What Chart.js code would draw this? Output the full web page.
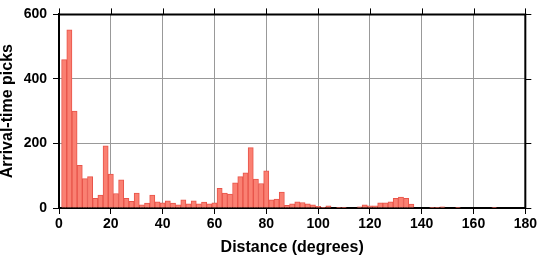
<!DOCTYPE html>
<html>
<head>
<meta charset="utf-8">
<script src="https://cdn.jsdelivr.net/npm/chart.js@4/dist/chart.umd.min.js"></script>
<style>
  html, body { margin: 0; padding: 0; background: #fff; }
  #wrap { width: 539px; height: 258px; }
</style>
</head>
<body>
<div id="wrap"><canvas id="hist" width="539" height="258"></canvas></div>
<script>
// Centros de los intervalos (grados), ancho de 2 grados
const distancias = [
  2, 4, 6, 8, 10, 12, 14, 16, 18, 20,
  22, 24, 26, 28, 30, 32, 34, 36, 38, 40,
  42, 44, 46, 48, 50, 52, 54, 56, 58, 60,
  62, 64, 66, 68, 70, 72, 74, 76, 78, 80,
  82, 84, 86, 88, 90, 92, 94, 96, 98, 100,
  102, 104, 106, 108, 110, 112, 114, 116, 118, 120,
  122, 124, 126, 128, 130, 132, 134, 136, 138, 140,
  142, 144, 146, 148, 150, 152, 154, 156, 158, 160,
  162, 164, 166, 168, 170, 172, 174, 176, 178
];

// Numero de lecturas por intervalo
const lecturas = [
  460, 552, 300, 132, 91, 97, 30, 40, 193, 105,
  45, 87, 30, 21, 46, 10, 15, 40, 19, 16,
  22, 15, 10, 25, 13, 22, 13, 18, 13, 16,
  61, 46, 43, 78, 97, 109, 187, 90, 76, 115,
  25, 28, 49, 8, 13, 19, 17, 13, 10, 5,
  2, 7, 0, 1, 1, 0, 0, 4, 10, 7,
  7, 16, 16, 19, 30, 34, 30, 12, 0, 0,
  0, 1, 1, 4, 0, 0, 1, 0, 0, 0,
  0, 0, 0, 1, 0, 0, 0, 0, 0
];

const ticksX = [0, 20, 40, 60, 80, 100, 120, 140, 160, 180];
const ticksY = [0, 200, 400, 600];

const fuenteTicks = { family: "'Liberation Sans', Arial, sans-serif", size: 14, weight: 'bold' };
const fuenteTitulo = { family: "'Liberation Sans', Arial, sans-serif", size: 16, weight: 'bold', lineHeight: 1 };

// Marco superior y derecho con sus marcas hacia afuera
const marco = {
  id: 'marco',
  afterDraw(chart) {
    const { ctx, chartArea: a, scales } = chart;
    ctx.save();
    ctx.strokeStyle = '#000';
    ctx.lineWidth = 2;
    ctx.beginPath();
    ctx.moveTo(a.left - 1, a.top);
    ctx.lineTo(a.right, a.top);
    ctx.lineTo(a.right, a.bottom + 1);
    ctx.stroke();
    ctx.lineWidth = 1;
    ctx.beginPath();
    ticksX.forEach(v => {
      const x = Math.round(scales.x.getPixelForValue(v)) + 0.5;
      ctx.moveTo(x, a.top);
      ctx.lineTo(x, a.top - 6);
    });
    ticksY.forEach(v => {
      const y = Math.round(scales.y.getPixelForValue(v)) + 0.5;
      ctx.moveTo(a.right, y);
      ctx.lineTo(a.right + 6, y);
    });
    ctx.stroke();
    ctx.restore();
  }
};

new Chart(document.getElementById('hist').getContext('2d'), {
  type: 'bar',
  data: {
    datasets: [{
      data: distancias.map((d, i) => ({ x: d, y: lecturas[i] })),
      backgroundColor: 'rgb(250, 128, 114)',
      borderColor: 'rgb(232, 84, 74)',
      borderWidth: 1,
      barPercentage: 1,
      categoryPercentage: 1
    }]
  },
  options: {
    responsive: false,
    animation: false,
    devicePixelRatio: 1,
    layout: { padding: { top: 6, right: 13, left: 0, bottom: 0 } },
    plugins: { legend: { display: false }, tooltip: { enabled: false } },
    scales: {
      x: {
        type: 'linear',
        min: 0,
        max: 180,
        offset: false,
        afterBuildTicks: s => { s.ticks = ticksX.map(v => ({ value: v })); },
        afterFit: s => { s.height = 50; },
        ticks: { color: '#000', font: fuenteTicks, padding: 2, maxRotation: 0 },
        grid: { offset: false, color: '#999', lineWidth: 1, tickColor: '#000', tickLength: 6 },
        border: { display: true, color: '#000', width: 2 },
        title: { display: true, text: 'Distance (degrees)', color: '#000', font: fuenteTitulo, padding: { top: 0, bottom: 2 } }
      },
      y: {
        min: 0,
        max: 600,
        afterBuildTicks: s => { s.ticks = ticksY.map(v => ({ value: v })); },
        afterFit: s => { s.width = 59; },
        ticks: { color: '#000', font: fuenteTicks, padding: 6 },
        grid: { color: '#999', lineWidth: 1, tickColor: '#000', tickLength: 6 },
        border: { display: true, color: '#000', width: 2 },
        title: { display: true, text: 'Arrival-time picks', color: '#000', font: fuenteTitulo, padding: { top: 0, bottom: 0 } }
      }
    }
  },
  plugins: [marco]
});
</script>
</body>
</html>
